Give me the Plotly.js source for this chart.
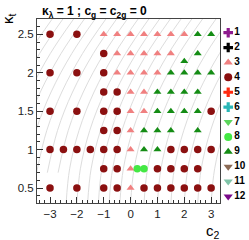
<!DOCTYPE html>
<html>
<head>
<meta charset="utf-8">
<script src="https://cdn.plot.ly/plotly-3.0.1.min.js"></script>
<style>html,body{margin:0;padding:0;background:#fff;}#chart{width:249px;height:240px;}</style>
</head>
<body>
<div id="chart"></div>
<script>
// ---- Benchmark clusters (c2, kappa_t) ----
const c3_x = [-1,-0.5,0,0.5,1,1.5,2, -0.5,0,0.5,1,1.5, -0.5,0,0.5,1, 0,0.5, 0,0.5, 0, 0, 0, 0];
const c3_y = [2.5,2.5,2.5,2.5,2.5,2.5,2.5, 2.25,2.25,2.25,2.25,2.25, 2,2,2,2, 1.75,1.75, 1.5,1.5, 1.25, 1, 0.75, 0.5];

const c4_x = [-3,-2, -1, -3,-2,-1, -1,-0.5, -3,-2,-1,-0.5,3, -1,-0.5,
              -3,-2.5,-2,-1.5,-1,-0.5,1.5,2,2.5,3, -1,-0.5,1,1.5,2,2.5,
              -3,-2,-1,-0.5,0.5,1,1.5,2,2.5,3];
const c4_y = [2.5,2.5, 2.25, 2,2,2, 1.75,1.75, 1.5,1.5,1.5,1.5,1.5, 1.25,1.25,
              1,1,1,1,1,1,1,1,1,1, 0.75,0.75,0.75,0.75,0.75,0.75,
              0.5,0.5,0.5,0.5,0.5,0.5,0.5,0.5,0.5,0.5];

const c8_x = [0.25, 0.5];
const c8_y = [0.75, 0.75];

const c9_x = [2.5,3, 2.5, 2, 1.5,2,2.5,3, 1,1.5,2,2.5, 1,1.5,2,2.5, 0.5,1,1.5,2.5, 0.5,1];
const c9_y = [2.5,2.5, 2.25, 2.15, 2,2,2,2, 1.75,1.75,1.75,1.75, 1.5,1.5,1.5,1.5, 1.25,1.25,1.25,1.25, 1,1];

// ---- Legend entries ----
const legendLabels  = ['1','2','3','4','5','6','7','8','9','10','11','12'];
const legendSymbols = ['cross','cross','triangle-up','circle','cross','cross','triangle-down','circle','triangle-up','triangle-down','triangle-down','triangle-down'];
const legendColors  = ['#8e1b8e','#000000','#f08080','#8b1010','#ff2a10','#2ab7b7','#5cd65c','#44e844','#148c14','#8b6a55','#80c4a8','#7a0a8a'];

// ---- Background iso-lines ----
const isoYFull  = [0.3, 0.75, 1.25, 1.75, 2.25, 2.7];
const isoYShort = [0.7, 1.25, 1.75, 2.25, 2.7];
const isoXFull = [
  [0.00,0.13,0.48,1.04,1.81,2.68],
  [-0.40,-0.27,0.08,0.64,1.41,2.28],
  [-0.80,-0.67,-0.32,0.24,1.01,1.88],
  [-1.20,-1.07,-0.72,-0.16,0.61,1.48],
  [-1.60,-1.47,-1.12,-0.56,0.21,1.08],
  [-2.00,-1.87,-1.52,-0.96,-0.19,0.68],
  [-2.40,-2.27,-1.92,-1.36,-0.59,0.28],
  [0.50,0.63,0.98,1.54,2.31,3.18],
  [1.00,1.13,1.48,2.04,2.81,3.68],
  [1.50,1.63,1.98,2.54,3.31,4.18],
  [2.00,2.13,2.48,3.04,3.81,4.68],
  [2.50,2.63,2.98,3.54,4.31,5.18],
  [3.00,3.13,3.48,4.04,4.81,5.68]
];
const isoXShort = [
  [-2.70,-2.32,-1.76,-0.99,-0.12],
  [-3.10,-2.72,-2.16,-1.39,-0.52],
  [-3.50,-3.12,-2.56,-1.79,-0.92],
  [-3.90,-3.52,-2.96,-2.19,-1.32],
  [-4.30,-3.92,-3.36,-2.59,-1.72],
  [-4.70,-4.32,-3.76,-2.99,-2.12],
  [-5.10,-4.72,-4.16,-3.39,-2.52],
  [-5.50,-5.12,-4.56,-3.79,-2.92]
];

const xTickVals = [-3,-2,-1,0,1,2,3];
const yTickVals = [0.5,1,1.5,2,2.5];

const traces = [];
function iso(xs, ys){
  return {x: xs, y: ys, type:'scatter', mode:'lines', line:{color:'#dddddd', width:1, shape:'spline'},
    hoverinfo:'skip', showlegend:false};
}
isoXFull.forEach(xs => traces.push(iso(xs, isoYFull)));
isoXShort.forEach(xs => traces.push(iso(xs, isoYShort)));

function cluster(xs, ys, idx, size){
  return {x: xs, y: ys, type:'scatter', mode:'markers', showlegend:false,
    marker:{symbol: legendSymbols[idx], color: legendColors[idx], size: size, line:{width:0}}};
}
traces.push(cluster(c4_x, c4_y, 3, 7.5));
traces.push(cluster(c3_x, c3_y, 2, 7));
traces.push(cluster(c9_x, c9_y, 8, 7));
traces.push(cluster(c8_x, c8_y, 7, 7.5));

// manual legend column
traces.push({
  x: legendLabels.map(() => 0.23),
  y: legendLabels.map((_, i) => i + 1),
  xaxis:'x2', yaxis:'y2', type:'scatter', mode:'markers+text',
  text: legendLabels.map(s => '<b>' + s + '</b>'),
  textposition:'middle right',
  textfont:{family:'Liberation Sans, Arial, sans-serif', size:10, color:'#000'},
  marker:{symbol: legendSymbols, color: legendColors, size: 8, line:{width:0}},
  cliponaxis:false, showlegend:false, hoverinfo:'skip'
});

const axisFont = {family:'Liberation Sans, Arial, sans-serif', size:11.5, color:'#222'};
const layout = {
  width:249, height:240,
  margin:{l:37, r:0, t:19, b:37},
  paper_bgcolor:'#fff', plot_bgcolor:'#fff',
  showlegend:false,
  title:{text:'<b>κ<sub>λ</sub> = 1 ; c<sub>g</sub> = c<sub>2g</sub> = 0</b>',
    font:{family:'Liberation Sans, Arial, sans-serif', size:12, color:'#000'},
    x:42/249, xref:'container', xanchor:'left', y:1-11/240, yref:'container', yanchor:'middle'},
  xaxis:{domain:[0, 183/212], range:[-3.485, 3.33], tickvals:xTickVals, ticks:'inside', ticklen:6,
    tickcolor:'#333', showgrid:false, zeroline:false, showline:true, linecolor:'#444', linewidth:1, mirror:true,
    tickfont:axisFont, minor:{dtick:0.2, ticks:'inside', ticklen:3, tickcolor:'#333', showgrid:false}},
  yaxis:{range:[0.305, 2.70], tickvals:yTickVals, ticks:'inside', ticklen:6,
    tickcolor:'#333', showgrid:false, zeroline:false, showline:true, linecolor:'#444', linewidth:1, mirror:true,
    tickfont:axisFont, minor:{dtick:0.1, ticks:'inside', ticklen:3, tickcolor:'#333', showgrid:false}},
  xaxis2:{domain:[185/212, 1], range:[0,1], visible:false, fixedrange:true},
  yaxis2:{anchor:'x2', range:[12.44, 0.081], visible:false, fixedrange:true},
  annotations:[
    {text:'c<sub>2</sub>', xref:'x domain', yref:'paper', x:1.01, y:-0.155, xanchor:'right', yanchor:'middle',
     showarrow:false, font:{family:'Liberation Sans, Arial, sans-serif', size:15, color:'#000'}},
    {text:'κ<sub>t</sub>', xref:'x domain', yref:'paper', x:-0.158, y:1.0, xanchor:'center', yanchor:'middle',
     textangle:-90, showarrow:false, font:{family:'Liberation Sans, Arial, sans-serif', size:15, color:'#000'}}
  ]
};

Plotly.newPlot('chart', traces, layout, {staticPlot:true, displayModeBar:false});
</script>
</body>
</html>
